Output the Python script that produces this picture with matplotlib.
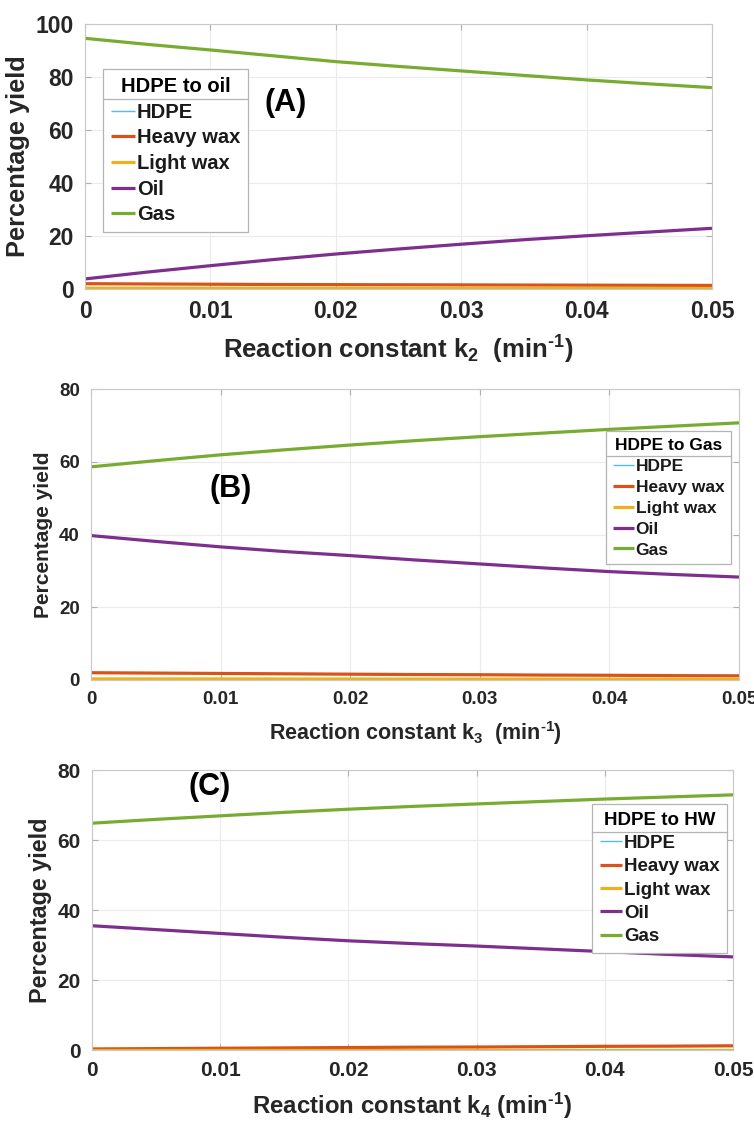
import matplotlib
matplotlib.use("Agg")
import matplotlib.pyplot as plt
from matplotlib.lines import Line2D

FONT = "Liberation Sans"
plt.rcParams['font.family'] = [FONT, 'DejaVu Sans']
plt.rcParams['font.weight'] = 'bold'
plt.rcParams['mathtext.fontset'] = 'custom'
plt.rcParams['mathtext.rm'] = FONT + ':bold'
plt.rcParams['mathtext.it'] = FONT + ':bold'
plt.rcParams['mathtext.bf'] = FONT + ':bold'
plt.rcParams['mathtext.default'] = 'rm'

# ---------------- data ----------------
k_values = [0.0, 0.005, 0.01, 0.015, 0.02, 0.025, 0.03, 0.035, 0.04, 0.045, 0.05]
series_names = ["HDPE", "Heavy wax", "Light wax", "Oil", "Gas"]

# (A) HDPE to oil, varying k2
a_hdpe = [0.0] * 11
a_heavy = [2.0, 1.9, 1.8, 1.7, 1.65, 1.6, 1.55, 1.5, 1.45, 1.4, 1.35]
a_light = [0.3, 0.3, 0.3, 0.28, 0.27, 0.26, 0.25, 0.24, 0.23, 0.22, 0.2]
a_oil = [3.8, 6.4, 8.8, 11.1, 13.2, 15.1, 16.9, 18.6, 20.1, 21.5, 22.9]
a_gas = [94.6, 92.3, 90.2, 88.0, 85.8, 84.0, 82.3, 80.6, 78.9, 77.4, 76.0]

# (B) HDPE to Gas, varying k3
b_hdpe = [0.0] * 11
b_heavy = [2.0, 1.9, 1.8, 1.7, 1.6, 1.5, 1.45, 1.35, 1.3, 1.2, 1.15]
b_light = [0.3, 0.3, 0.3, 0.28, 0.27, 0.26, 0.25, 0.24, 0.23, 0.22, 0.2]
b_oil = [39.7, 38.1, 36.6, 35.3, 34.2, 33.0, 31.9, 30.8, 29.8, 29.0, 28.3]
b_gas = [58.6, 60.3, 61.9, 63.3, 64.6, 65.8, 66.9, 67.9, 68.9, 69.8, 70.7]

# (C) HDPE to HW, varying k4
c_hdpe = [0.0] * 11
c_heavy = [0.3, 0.4, 0.5, 0.6, 0.7, 0.8, 0.85, 0.95, 1.05, 1.1, 1.2]
c_light = [0.1] * 11
c_oil = [35.5, 34.4, 33.3, 32.2, 31.2, 30.4, 29.7, 28.9, 28.1, 27.3, 26.6]
c_gas = [64.8, 65.9, 66.9, 67.9, 68.8, 69.6, 70.3, 71.0, 71.7, 72.3, 72.9]

x_ticks = [0, 0.01, 0.02, 0.03, 0.04, 0.05]
x_tick_labels = ["0", "0.01", "0.02", "0.03", "0.04", "0.05"]

colors = ["#4DBEEE", "#D95319", "#EDB120", "#7E2F8E", "#77AC30"]
widths = [1.0, 2.3, 2.3, 2.3, 2.3]

W, H = 754, 1125
fig = plt.figure(figsize=(W / 100, H / 100), dpi=100)
fig.patch.set_facecolor("white")

panels = [
    dict(rect=[85 / W, 1 - 289 / H, 627 / W, 265 / H],
         data=[a_hdpe, a_heavy, a_light, a_oil, a_gas], ymax=100,
         yticks=[0, 20, 40, 60, 80, 100], tick_fs=16.5, lab_fs=18.5,
         xlabel=r"Reaction constant k$_2$  (min$^{\text{-1}}$)", ylabel_fs=18.3,
         leg_title="HDPE to oil", leg_fs=14.5, leg_loc="upper left",
         leg_anchor=(0.028, 0.83), tag="(A)", tag_xy=(0.0160, 70), tag_fs=22),
    dict(rect=[91 / W, 1 - 680 / H, 648 / W, 291 / H],
         data=[b_hdpe, b_heavy, b_light, b_oil, b_gas], ymax=80,
         yticks=[0, 20, 40, 60, 80], tick_fs=13.5, lab_fs=15.5,
         xlabel=r"Reaction constant k$_3$  (min$^{\text{-1}}$)", ylabel_fs=15,
         leg_title="HDPE to Gas", leg_fs=12.5, leg_loc="upper right",
         leg_anchor=(0.988, 0.855), tag="(B)", tag_xy=(0.0108, 52.5), tag_fs=22),
    dict(rect=[92 / W, 1 - 1050 / H, 641 / W, 280 / H],
         data=[c_hdpe, c_heavy, c_light, c_oil, c_gas], ymax=80,
         yticks=[0, 20, 40, 60, 80], tick_fs=15.0, lab_fs=17.3,
         xlabel=r"Reaction constant k$_4$ (min$^{\text{-1}}$)", ylabel_fs=16.8,
         leg_title="HDPE to HW", leg_fs=13.5, leg_loc="upper right",
         leg_anchor=(0.991, 0.878), tag="(C)", tag_xy=(0.0092, 75), tag_fs=22),
]

legends = []
for p in panels:
    ax = fig.add_axes(p["rect"])
    for name, vals, c, lw in zip(series_names, p["data"], colors, widths):
        ax.plot(k_values, vals, color=c, lw=lw, label=name, solid_capstyle="butt")
    ax.set_xlim(0, 0.05)
    ax.set_ylim(0, p["ymax"])
    ax.set_xticks(x_ticks)
    ax.set_xticklabels(x_tick_labels)
    ax.set_yticks(p["yticks"])
    ax.grid(True, color="#ebebeb", lw=0.8)
    ax.set_axisbelow(True)
    for s in ax.spines.values():
        s.set_color("#c8c8c8")
        s.set_linewidth(0.8)
    ax.tick_params(direction="in", length=4, color="#b0b0b0",
                   labelsize=p["tick_fs"], colors="#262626", pad=8,
                   top=True, right=True, labeltop=False, labelright=False)
    for lbl in ax.get_xticklabels() + ax.get_yticklabels():
        lbl.set_fontweight("bold")
        lbl.set_color("#262626")
    ax.set_xlabel(p["xlabel"], fontsize=p["lab_fs"], fontweight="bold",
                  color="#262626", labelpad=8)
    ax.set_ylabel("Percentage yield", fontsize=p["ylabel_fs"], fontweight="bold",
                  color="#262626", labelpad=4)
    leg = ax.legend(loc=p["leg_loc"], bbox_to_anchor=p["leg_anchor"],
                    title=p["leg_title"], fontsize=p["leg_fs"],
                    title_fontproperties={"weight": "bold", "size": p["leg_fs"]},
                    frameon=True, fancybox=False, edgecolor="#b4b4b4",
                    framealpha=1, handlelength=1.2, handletextpad=0.1,
                    labelspacing=0.33, borderpad=0.4, borderaxespad=0.0)
    leg.get_frame().set_linewidth(0.9)
    for t in leg.get_texts():
        t.set_fontweight("bold")
        t.set_color("#1a1a1a")
    ax.text(p["tag_xy"][0], p["tag_xy"][1], p["tag"], fontsize=p["tag_fs"],
            fontweight="bold", ha="center", va="center", color="black")
    legends.append(leg)

fig.canvas.draw()
inv = fig.transFigure.inverted()
for leg in legends:
    fb = leg.get_frame().get_window_extent()
    tb = leg.get_title().get_window_extent()
    ysep = tb.y0 - 3
    (x0, y0) = inv.transform((fb.x0, ysep))
    (x1, _) = inv.transform((fb.x1, ysep))
    fig.add_artist(Line2D([x0, x1], [y0, y0], transform=fig.transFigure,
                          color="#b4b4b4", lw=0.9))

fig.savefig("out.png", dpi=100, facecolor="white")
